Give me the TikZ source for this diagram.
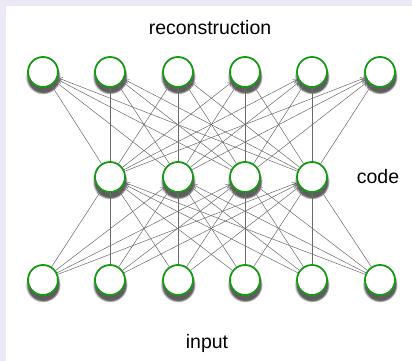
\documentclass[tikz,border=0pt]{standalone}
\usepackage{fontspec}
\setmainfont{Liberation Sans}
\usetikzlibrary{shadows,arrows.meta}
\definecolor{bgl}{HTML}{ECE8F6}
\definecolor{ngreen}{HTML}{169A16}
\definecolor{egray}{HTML}{6A6A6A}
\tikzset{
  unit/.style={circle, draw=ngreen, line width=1.8pt, fill=white, minimum size=30pt, inner sep=0pt,
    circular drop shadow={shadow xshift=0pt, shadow yshift=-4pt, shadow scale=1.18, opacity=0.9, fill=black!70}},
  conn/.style={draw=egray, line width=0.5pt, -{To[length=5pt,width=5pt]}},
  lbl/.style={font=\fontsize{19.5}{23}\selectfont, text=black}
}
\begin{document}
\begin{tikzpicture}[x=1pt,y=-1pt]
\useasboundingbox (0,0) rectangle (412,361);
\fill[bgl] (0,0) rectangle (412,361);
\fill[white] (6,6) rectangle (412,361);
\foreach \i/\x in {1/43,2/110,3/178,4/245,5/312,6/380}{
  \node[unit] (t\i) at (\x,72) {};
  \node[unit] (b\i) at (\x,280) {};
}
\foreach \i/\x in {1/110,2/178,3/245,4/312}{
  \node[unit] (m\i) at (\x,177) {};
}
\foreach \j in {1,...,4}{
  \foreach \i in {1,...,6}{
    \draw[conn] (b\i) -- (m\j);
    \draw[conn] (m\j) -- (t\i);
  }
}
\node[lbl] (rec) at (210,28) {reconstruction};
\node[lbl] (code) at (378,177) {code};
\node[lbl] (inp) at (207,343) {input};
\end{tikzpicture}
\end{document}
